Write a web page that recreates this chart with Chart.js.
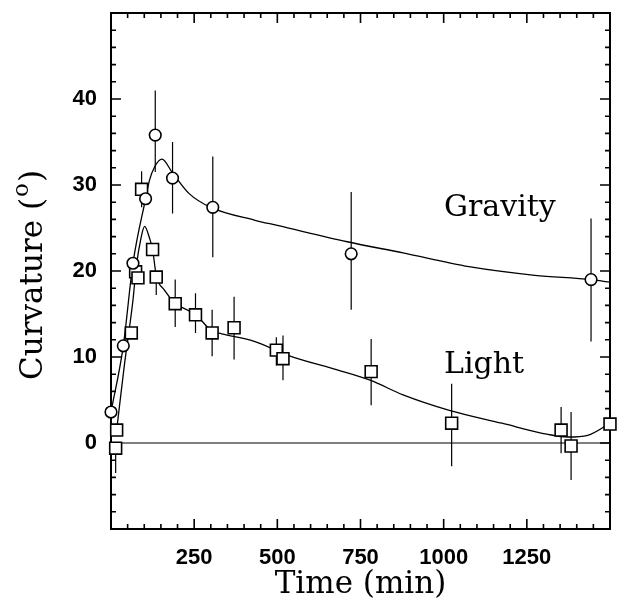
<!DOCTYPE html>
<html>
<head>
<meta charset="UTF-8">
<title>Curvature vs time</title>
<script src="https://cdn.jsdelivr.net/npm/chart.js@4.4.1/dist/chart.umd.min.js"></script>
<style>
    html, body { margin: 0; padding: 0; background: #ffffff; }
    #chartDiv { width: 620px; height: 605px; }
</style>
</head>
<body>
<div id="chartDiv"><canvas id="chartCanvas" width="620" height="605"></canvas></div>
<script>

// Gravity - open circles (time in min, curvature in degrees)
var gravityTime = [0, 37, 66, 104, 133, 185, 306, 722, 1443];
var gravityCurv = [3.6, 11.3, 20.9, 28.4, 35.8, 30.8, 27.4, 22.0, 19.0];
var gravityLow  = [null, null, null, null, 31.5, 26.7, 21.6, 15.5, 11.8];
var gravityHigh = [null, null, null, null, 41.0, 35.0, 33.3, 29.2, 26.1];

// Light - open squares
var lightTime = [14, 17, 61, 74, 81, 92, 125, 136, 193, 254, 304, 370, 497, 517, 782, 1024, 1353, 1383, 1500];
var lightCurv = [-0.6, 1.5, 12.8, 19.9, 19.2, 29.5, 22.5, 19.3, 16.2, 14.9, 12.8, 13.4, 10.8, 9.8, 8.3, 2.3, 1.5, -0.35, 2.2];
var lightLow  = [-3.5, null, null, null, null, 27.4, null, 17.2, 13.5, 12.8, 10.1, 9.7, 9.0, 7.3, 4.4, -2.7, -1.2, -4.3, null];
var lightHigh = [null, null, null, null, null, 31.6, null, null, 19.0, 17.4, 15.5, 17.0, 12.3, 12.5, 12.1, 6.9, 4.2, 3.6, null];

// fitted curves
var gravityFitTime = [0, 37, 66, 104, 116, 131, 153, 185, 235, 300, 433, 500, 710, 878, 1076, 1274, 1443, 1500];
var gravityFitCurv = [3.6, 11.3, 20.9, 28.4, 30.6, 32.1, 33.0, 31.4, 29.0, 27.4, 25.9, 25.3, 23.4, 22.1, 20.5, 19.5, 19.0, 18.7];
var lightFitTime = [17, 40, 66, 76, 90, 101, 116, 125, 136, 160, 192, 255, 304, 333, 433, 532, 680, 779, 878, 1017, 1175, 1314, 1373, 1433, 1500];
var lightFitCurv = [1.5, 9.0, 16.6, 20.5, 23.8, 25.2, 23.8, 22.5, 19.5, 17.8, 16.3, 14.9, 13.0, 12.7, 11.8, 10.2, 8.5, 7.3, 5.6, 3.8, 2.3, 1.0, 0.7, 0.9, 2.3];

// axes
var xTickLabels = [250, 500, 750, 1000, 1250];
var yTickLabels = [0, 10, 20, 30, 40];

function toPoints(xs, ys) {
    return xs.map(function(x, i) { return {x: x, y: ys[i]}; });
}

var serif = '"DejaVu Serif", serif';
var tickFont = {family: '"Liberation Sans", Arial, sans-serif', size: 22, weight: 'bold'};

// box, inward ticks on all four sides, zero line and error bars
var framePlugin = {
    id: 'frame',
    beforeDatasetsDraw: function(chart) {
        var ctx = chart.ctx;
        var a = chart.chartArea;
        var sx = chart.scales.x, sy = chart.scales.y;
        ctx.save();
        ctx.strokeStyle = '#000';
        ctx.lineCap = 'butt';

        // zero line
        ctx.lineWidth = 1;
        var y0 = sy.getPixelForValue(0);
        ctx.beginPath();
        ctx.moveTo(a.left, y0);
        ctx.lineTo(a.right, y0);
        ctx.stroke();

        // ticks
        ctx.lineWidth = 1.6;
        ctx.beginPath();
        for (var t = 50; t < sx.max; t += 50) {
            var px = sx.getPixelForValue(t);
            var len = (t % 250 === 0) ? 10 : 5;
            ctx.moveTo(px, a.bottom); ctx.lineTo(px, a.bottom - len);
            ctx.moveTo(px, a.top); ctx.lineTo(px, a.top + len);
        }
        for (var v = sy.min + 2; v < sy.max; v += 2) {
            var py = sy.getPixelForValue(v);
            var l2 = (Math.round(v) % 10 === 0) ? 10 : 5;
            ctx.moveTo(a.left, py); ctx.lineTo(a.left + l2, py);
            ctx.moveTo(a.right, py); ctx.lineTo(a.right - l2, py);
        }
        ctx.stroke();

        // frame
        ctx.lineWidth = 2;
        ctx.strokeRect(a.left, a.top, a.right - a.left, a.bottom - a.top);

        // error bars
        ctx.lineWidth = 1.2;
        function bars(xs, ys, lo, hi) {
            ctx.beginPath();
            for (var i = 0; i < xs.length; i++) {
                if (lo[i] === null && hi[i] === null) continue;
                var bx = sx.getPixelForValue(xs[i]);
                var b1 = sy.getPixelForValue(lo[i] === null ? ys[i] : lo[i]);
                var b2 = sy.getPixelForValue(hi[i] === null ? ys[i] : hi[i]);
                ctx.moveTo(bx, b1);
                ctx.lineTo(bx, b2);
            }
            ctx.stroke();
        }
        bars(gravityTime, gravityCurv, gravityLow, gravityHigh);
        bars(lightTime, lightCurv, lightLow, lightHigh);
        ctx.restore();
    },
    afterDatasetsDraw: function(chart) {
        var ctx = chart.ctx;
        var a = chart.chartArea;
        var sx = chart.scales.x, sy = chart.scales.y;
        ctx.save();
        ctx.fillStyle = '#000';
        ctx.font = '30px ' + serif;
        ctx.textAlign = 'left';
        ctx.textBaseline = 'middle';
        ctx.fillText('Gravity', sx.getPixelForValue(1001), sy.getPixelForValue(27.3));
        ctx.fillText('Light', sx.getPixelForValue(1001), sy.getPixelForValue(9.0));
        ctx.restore();

        // y axis title with raised "o" for degrees
        var big = '31px ' + serif, small = '23px ' + serif;
        var p1 = 'Curvature (', p2 = 'o', p3 = ')';
        ctx.save();
        ctx.fillStyle = '#000';
        ctx.textBaseline = 'alphabetic';
        ctx.textAlign = 'left';
        ctx.font = big;
        var w1 = ctx.measureText(p1).width, w3 = ctx.measureText(p3).width;
        ctx.font = small;
        var w2 = ctx.measureText(p2).width + 2;
        var total = w1 + w2 + w3;
        ctx.translate(42, (a.top + a.bottom) / 2 + 4);
        ctx.rotate(-Math.PI / 2);
        var x0 = -total / 2;
        ctx.font = big;
        ctx.fillText(p1, x0, 0);
        ctx.font = small;
        ctx.fillText(p2, x0 + w1 + 1, -14);
        ctx.font = big;
        ctx.fillText(p3, x0 + w1 + w2, 0);
        ctx.restore();
    }
};

var myChart = new Chart(document.getElementById('chartCanvas'), {
    type: 'scatter',
    data: {
        datasets: [
            {
                label: 'Gravity',
                data: toPoints(gravityTime, gravityCurv),
                pointStyle: 'circle',
                pointRadius: 5.8,
                borderColor: '#000',
                backgroundColor: '#fff',
                borderWidth: 1.6,
                clip: false,
                order: 0
            },
            {
                label: 'Light',
                data: toPoints(lightTime, lightCurv),
                pointStyle: 'rect',
                pointRadius: 8.4,
                borderColor: '#000',
                backgroundColor: '#fff',
                borderWidth: 1.6,
                clip: false,
                order: 0
            },
            {
                type: 'line',
                label: 'Gravity fit',
                data: toPoints(gravityFitTime, gravityFitCurv),
                borderColor: '#000',
                borderWidth: 1.3,
                pointRadius: 0,
                fill: false,
                cubicInterpolationMode: 'monotone',
                order: 2
            },
            {
                type: 'line',
                label: 'Light fit',
                data: toPoints(lightFitTime, lightFitCurv),
                borderColor: '#000',
                borderWidth: 1.3,
                pointRadius: 0,
                fill: false,
                cubicInterpolationMode: 'monotone',
                order: 2
            }
        ]
    },
    options: {
        responsive: false,
        animation: false,
        devicePixelRatio: 1,
        layout: { padding: { left: 0, right: 5, top: 13, bottom: 0 } },
        plugins: {
            legend: { display: false },
            tooltip: { enabled: false }
        },
        scales: {
            x: {
                type: 'linear',
                min: 0,
                max: 1500,
                grid: { display: false, drawTicks: false },
                border: { display: false },
                ticks: {
                    stepSize: 250,
                    autoSkip: false,
                    maxRotation: 0,
                    color: '#000',
                    font: tickFont,
                    padding: 16,
                    callback: function(v) { return xTickLabels.indexOf(v) >= 0 ? String(v) : ''; }
                },
                title: {
                    display: true,
                    text: 'Time (min)',
                    color: '#000',
                    font: { family: serif, size: 31 },
                    padding: { top: 0, bottom: 1 }
                },
                afterFit: function(s) { s.height = 76; s.paddingLeft = 0; s.paddingRight = 0; }
            },
            y: {
                type: 'linear',
                min: -10,
                max: 50,
                grid: { display: false, drawTicks: false },
                border: { display: false },
                ticks: {
                    stepSize: 10,
                    autoSkip: false,
                    color: '#000',
                    font: tickFont,
                    padding: 14,
                    callback: function(v) { return yTickLabels.indexOf(v) >= 0 ? String(v) : ''; }
                },
                title: { display: false },
                afterFit: function(s) { s.width = 111; s.paddingTop = 0; s.paddingBottom = 0; }
            }
        }
    },
    plugins: [framePlugin]
});

</script>
</body>
</html>
